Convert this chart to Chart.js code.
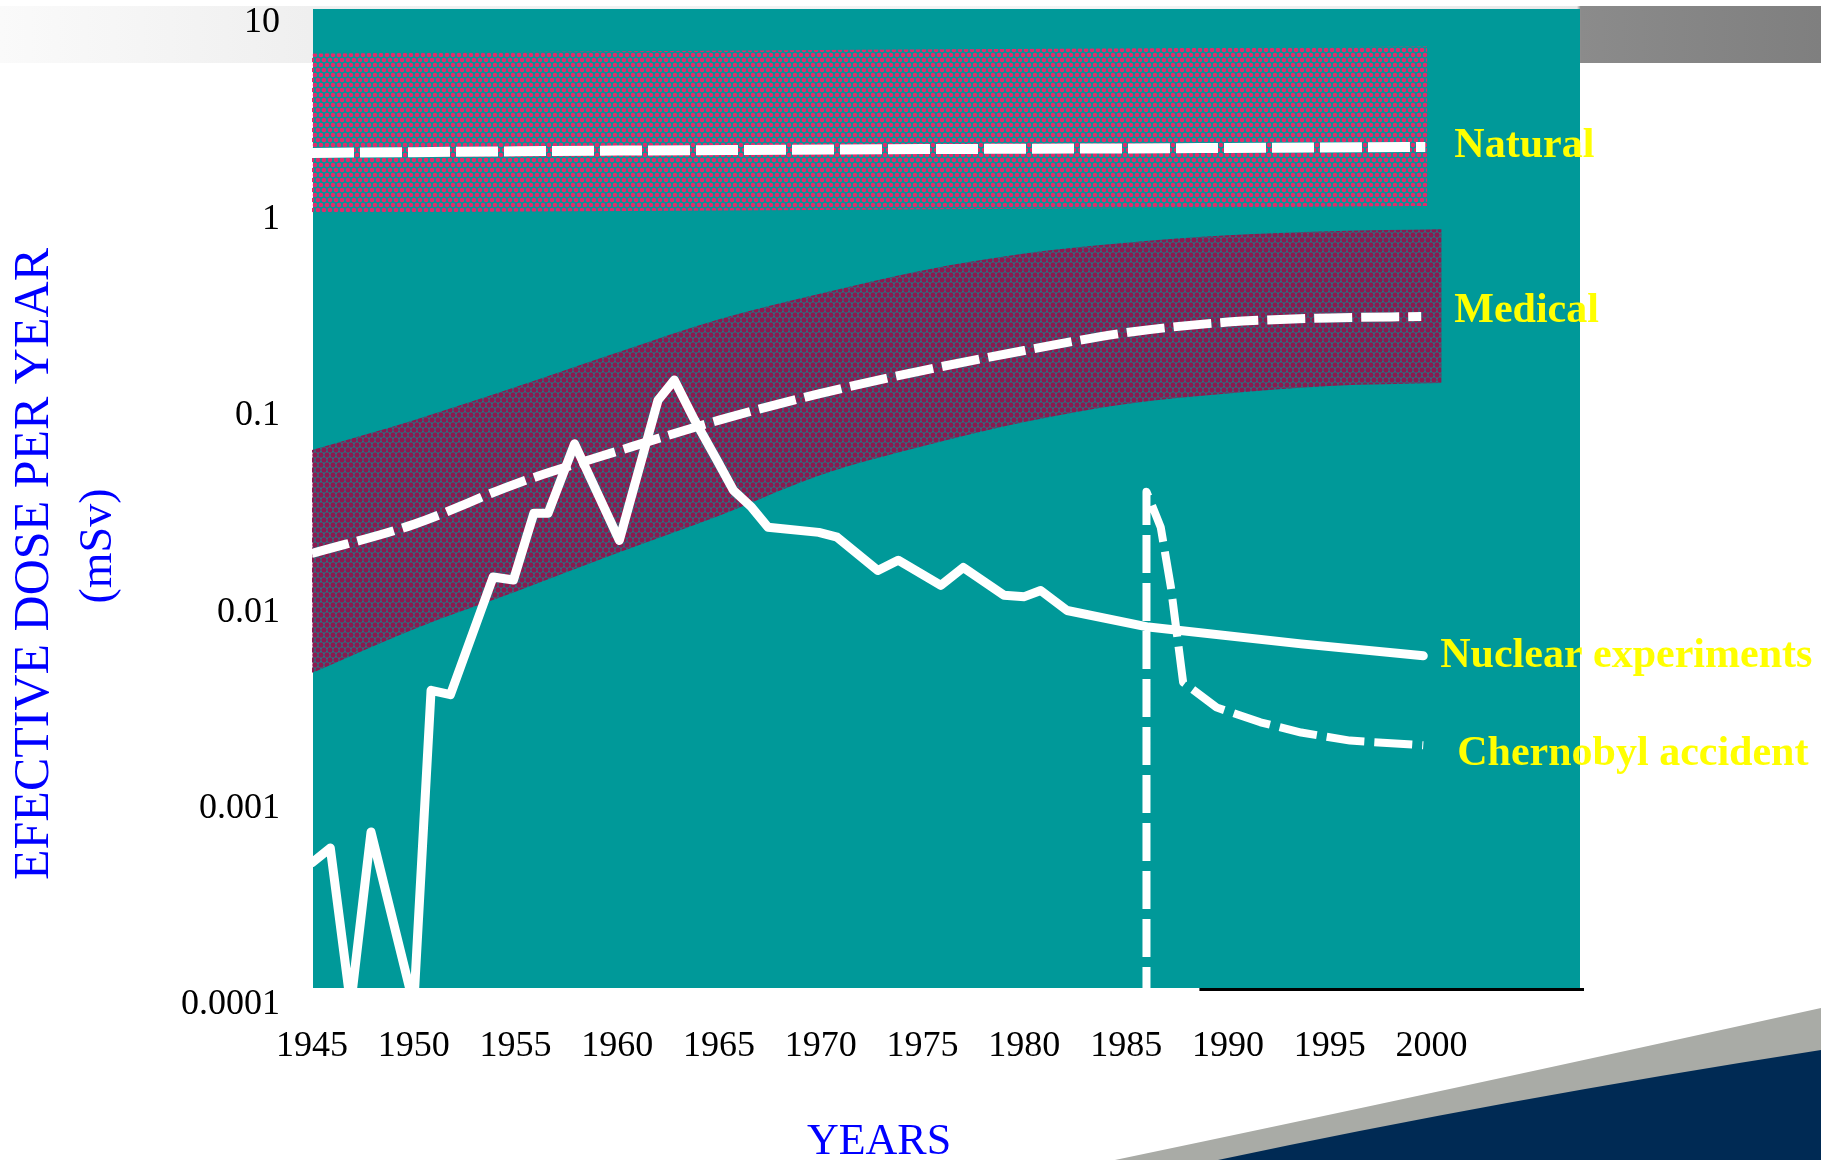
<!DOCTYPE html>
<html>
<head>
<meta charset="utf-8">
<title>Effective dose per year</title>
<script src="https://cdn.jsdelivr.net/npm/chart.js@4.4.1/dist/chart.umd.min.js"></script>
<style>
  html, body { margin: 0; padding: 0; background: #fff; }
  #wrap { width: 1821px; height: 1160px; }
</style>
</head>
<body>
<div id="wrap"><canvas id="doseChart" width="1821" height="1160"></canvas></div>
<script>
// axes
const xTicks = [1945, 1950, 1955, 1960, 1965, 1970, 1975, 1980, 1985, 1990, 1995, 2000];
const yTicks = [10, 1, 0.1, 0.01, 0.001, 0.0001];

// natural background (band + mean)
const natYears = [1945, 1960, 1975, 1990, 1999.7];
const natDose = [2.18, 2.24, 2.28, 2.31, 2.34];
const natBandYears = [1945, 1972, 1999.8];
const natBandHigh = [7.0, 7.3, 7.6];
const natBandLow = [1.08, 1.12, 1.17];

// medical (band + mean)
const medYears = [1945, 1950, 1955, 1960, 1965, 1970, 1975, 1980, 1985, 1990, 1995, 1999.5];
const medDose = [0.0199, 0.028, 0.045, 0.066, 0.095, 0.13, 0.17, 0.215, 0.265, 0.30, 0.315, 0.32];
const medBandYears = [1945, 1950, 1955, 1960, 1965, 1970, 1975, 1980, 1985, 1990, 1995, 2000.5];
const medBandHigh = [0.067, 0.095, 0.14, 0.21, 0.31, 0.42, 0.55, 0.67, 0.76, 0.83, 0.87, 0.89];
const medBandLow = [0.0049, 0.0082, 0.0127, 0.02, 0.031, 0.05, 0.07, 0.093, 0.115, 0.13, 0.142, 0.147];

// nuclear weapon tests fallout
const nucYears = [1945, 1945.9, 1946.9, 1947.9, 1950.0, 1950.85, 1951.8, 1953.9, 1954.9, 1955.9, 1956.6, 1957.9, 1960.1, 1962.0, 1962.8, 1963.8, 1964.9, 1965.7, 1966.6, 1967.4, 1969.9, 1970.8, 1972.8, 1973.8, 1975.9, 1977.0, 1979.0, 1980.0, 1980.8, 1982.1, 1986.1, 1993.6, 1999.6];
const nucDose = [0.00053, 0.00063, 0.0001, 0.00076, 0.0001, 0.0040, 0.0038, 0.0151, 0.0146, 0.0319, 0.0319, 0.072, 0.0232, 0.12, 0.152, 0.095, 0.0594, 0.0418, 0.0342, 0.0271, 0.0255, 0.0241, 0.0163, 0.0184, 0.0137, 0.0169, 0.0122, 0.0120, 0.0129, 0.0102, 0.0084, 0.0069, 0.0060];

// chernobyl
const chYears = [1986.0, 1986.0, 1986.7, 1987.2, 1987.8, 1989.45, 1991.6, 1993.6, 1996.0, 1999.6];
const chDose = [0.0001, 0.041, 0.0271, 0.0134, 0.0044, 0.00327, 0.00275, 0.00244, 0.00222, 0.0021];

const seriesNames = ['Natural', 'Medical', 'Nuclear experiments', 'Chernobyl accident'];

const FONT = "'Liberation Serif', 'Times New Roman', serif";
const TEAL = '#009999';
const labelNudge = [[29, -1], [33, -5], [17, 0], [34, 9]];

const pts = (xs, ys) => xs.map((x, i) => ({x: x, y: ys[i]}));

function dotPattern(color, step, r) {
    const c = document.createElement('canvas');
    const h = Math.round(step * 1.732);
    c.width = step; c.height = h;
    const g = c.getContext('2d');
    g.fillStyle = color;
    [[0, 0], [step, 0], [0, h], [step, h], [step / 2, h / 2]].forEach(p => {
        g.beginPath(); g.arc(p[0], p[1], r, 0, Math.PI * 2); g.fill();
    });
    return g.createPattern(c, 'repeat');
}

const clip = {left: 0, top: 20, right: 0, bottom: -17};

const band = (xs, ys, fill, bg, order) => ({
    data: pts(xs, ys), fill: fill, backgroundColor: bg, borderColor: 'transparent',
    borderWidth: 0, pointRadius: 0, cubicInterpolationMode: 'monotone', order: order, clip: clip
});

const line = (xs, ys, width, dash, smooth) => ({
    data: pts(xs, ys), fill: false, borderColor: '#ffffff', borderWidth: width, borderDash: dash,
    borderCapStyle: dash.length ? 'butt' : 'round', borderJoinStyle: 'round',
    pointRadius: 0, cubicInterpolationMode: smooth ? 'monotone' : 'default', tension: 0, order: 1, clip: clip
});

// slide template + teal panel underneath, texts on top
const decor = {
    id: 'decor',
    beforeDraw(chart) {
        const {ctx, chartArea: a, width, height} = chart;
        ctx.save();
        ctx.fillStyle = '#fff';
        ctx.fillRect(0, 0, width, height);

        const hg = ctx.createLinearGradient(0, 0, width, 0);
        hg.addColorStop(0, '#fafafa');
        hg.addColorStop(0.17, '#efefef');
        hg.addColorStop(0.6, '#f4f4f4');
        hg.addColorStop(0.866, '#e8e8e8');
        hg.addColorStop(0.868, '#8b8b8b');
        hg.addColorStop(1, '#7f7f7f');
        ctx.fillStyle = hg;
        ctx.fillRect(0, 6, width, 57);

        ctx.fillStyle = '#a9aba6';
        ctx.beginPath();
        ctx.moveTo(1115, height);
        ctx.quadraticCurveTo(1450, 1090, width, 1008);
        ctx.lineTo(width, height);
        ctx.closePath(); ctx.fill();
        ctx.fillStyle = '#002a54';
        ctx.beginPath();
        ctx.moveTo(1218, height);
        ctx.quadraticCurveTo(1500, 1100, width, 1050);
        ctx.lineTo(width, height);
        ctx.closePath(); ctx.fill();

        ctx.fillStyle = TEAL;
        ctx.fillRect(a.left + 1, a.top - 14, a.right - a.left - 1, (a.bottom - 17) - (a.top - 14));

        ctx.fillStyle = '#000';
        const x0 = chart.scales.x.getPixelForValue(1988.6);
        ctx.fillRect(x0, a.bottom - 17, a.right + 4 - x0, 3);
        ctx.restore();
    },
    afterDraw(chart) {
        const ctx = chart.ctx;
        ctx.save();
        ctx.fillStyle = '#ffff00';
        ctx.font = 'bold 42px ' + FONT;
        ctx.textAlign = 'left';
        ctx.textBaseline = 'middle';
        [4, 5, 6, 7].forEach((di, i) => {
            const els = chart.getDatasetMeta(di).data;
            const p = els[els.length - 1];
            ctx.fillText(seriesNames[i], p.x + labelNudge[i][0], p.y + labelNudge[i][1]);
        });

        ctx.fillStyle = '#0000ff';
        ctx.textAlign = 'center';
        ctx.save();
        ctx.translate(35, 564);
        ctx.rotate(-Math.PI / 2);
        ctx.font = '50px ' + FONT;
        ctx.fillText('EFECTIVE DOSE PER YEAR', 0, 0);
        ctx.restore();
        ctx.save();
        ctx.translate(99, 546);
        ctx.rotate(-Math.PI / 2);
        ctx.font = '46px ' + FONT;
        ctx.fillText('(mSv)', 0, 0);
        ctx.restore();

        ctx.font = '44px ' + FONT;
        ctx.fillText('YEARS', 879, 1142);
        ctx.restore();
    }
};

const tickFont = {family: FONT, size: 36};

new Chart(document.getElementById('doseChart'), {
    type: 'line',
    data: {
        datasets: [
            band(natBandYears, natBandHigh, '+1', dotPattern('#e02c6c', 6, 2.3), 9),
            band(natBandYears, natBandLow, false, 'transparent', 9),
            band(medBandYears, medBandHigh, '+1', dotPattern('#8a1a50', 6, 2.7), 8),
            band(medBandYears, medBandLow, false, 'transparent', 8),
            line(natYears, natDose, 10, [42, 6], true),
            line(medYears, medDose, 9, [38, 9], true),
            line(nucYears, nucDose, 9, [], false),
            line(chYears, chDose, 8, [38, 10], false)
        ]
    },
    options: {
        responsive: false,
        devicePixelRatio: 1,
        animation: false,
        events: [],
        layout: {padding: {top: 23, right: 241, bottom: 0, left: 0}},
        plugins: {legend: {display: false}, tooltip: {enabled: false}},
        scales: {
            x: {
                type: 'linear', min: 1945, max: 2007.3,
                afterBuildTicks: s => { s.ticks = xTicks.map(v => ({value: v})); },
                afterFit: s => { s.height = 155; s.paddingLeft = 0; s.paddingRight = 0; },
                grid: {display: false, drawTicks: false}, border: {display: false},
                ticks: {font: tickFont, color: '#000', padding: 20, maxRotation: 0, autoSkip: false, callback: v => String(v)}
            },
            y: {
                type: 'logarithmic', min: 0.0001, max: 10,
                afterBuildTicks: s => { s.ticks = yTicks.map(v => ({value: v})); },
                afterFit: s => { s.width = 312; s.paddingTop = 0; s.paddingBottom = 0; },
                grid: {display: false, drawTicks: false}, border: {display: false},
                ticks: {font: tickFont, color: '#000', padding: 32, autoSkip: false, callback: v => String(v)}
            }
        }
    },
    plugins: [decor]
});
</script>
</body>
</html>
